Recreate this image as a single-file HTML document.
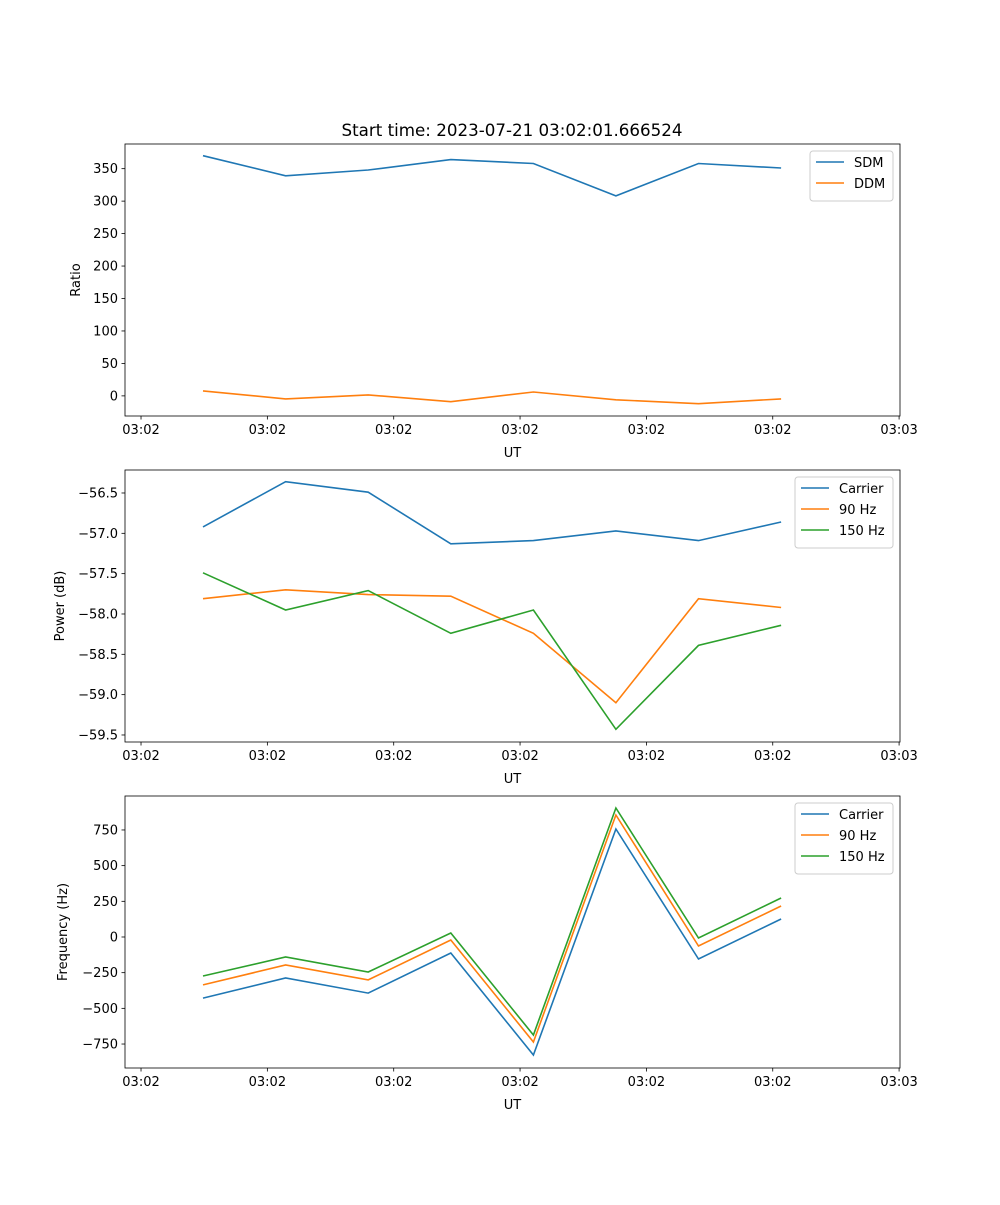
<!DOCTYPE html>
<html><head><meta charset="utf-8"><style>
html,body{margin:0;padding:0;background:#fff;}
svg text{font-family:"DejaVu Sans","Liberation Sans",sans-serif;}
</style></head><body>
<svg id="fig" width="1000" height="1200" xmlns="http://www.w3.org/2000/svg"></svg>
<script>
const xTickLabels = ["03:02","03:02","03:02","03:02","03:02","03:02","03:03"];
const sdm = [370,339,348,364,358,308,358,351];
const ddm = [7.7,-4.6,1.5,-9,6,-6,-12,-4.6];
const pCarrier = [-56.92,-56.36,-56.49,-57.13,-57.09,-56.97,-57.09,-56.86];
const p90 = [-57.81,-57.70,-57.76,-57.78,-58.24,-59.10,-57.81,-57.92];
const p150 = [-57.49,-57.95,-57.71,-58.24,-57.95,-59.43,-58.39,-58.14];
const fCarrier = [-428,-287,-393,-112,-827,757,-154,126];
const f90 = [-336,-196,-301,-21,-736,855,-63,217];
const f150 = [-273,-140,-245,28,-687,904,-7,273];
const yTicks1 = [0,50,100,150,200,250,300,350];
const yTicks2 = [-59.5,-59.0,-58.5,-58.0,-57.5,-57.0,-56.5];
const yTicks3 = [-750,-500,-250,0,250,500,750];

const NS="http://www.w3.org/2000/svg";
const svg=document.getElementById('fig');
function mk(tag,attrs,parent){const e=document.createElementNS(NS,tag);for(const k in attrs)e.setAttribute(k,attrs[k]);(parent||svg).appendChild(e);return e;}
const L=125,R=900;
const xMin=-0.945,xMax=8.44;
function xs(v){return L+(v-xMin)/(xMax-xMin)*(R-L);}
const xTickPos=[-0.751,0.779,2.309,3.839,5.369,6.899,8.429];
const colors={blue:'#1f77b4',orange:'#ff7f0e',green:'#2ca02c'};

function panel(name,top,bottom,yMin,yMax,yTicks,fmt,ylabel,series,legend){
  const g=mk('g',{});
  
  
  const ys=v=>bottom-(v-yMin)/(yMax-yMin)*(bottom-top);
  yTicks.forEach(t=>{
    const y=ys(t);
    const tk=mk('line',{x1:L-3.5,x2:L,y1:y,y2:y,stroke:'#000','stroke-width':0.8},g);
    
    
    const tx=mk('text',{x:L-7,y:y+4.5,'text-anchor':'end','font-size':13},g);
    
    
    tx.textContent=fmt(t);
  });
  xTickPos.forEach((t,i)=>{
    const x=xs(t);
    const tk=mk('line',{x1:x,x2:x,y1:bottom,y2:bottom+3.5,stroke:'#000','stroke-width':0.8},g);
    
    
    const tx=mk('text',{x:x,y:bottom+18,'text-anchor':'middle','font-size':13},g);
    
    
    tx.textContent=xTickLabels[i];
  });
  series.forEach(s=>{
    const pts=s.data.map((v,i)=>xs(i).toFixed(1)+','+ys(v).toFixed(1)).join(' ');
    const pl=mk('polyline',{points:pts,fill:'none',stroke:s.color,'stroke-width':1.6},g);
    
    
  });
  const fr=mk('rect',{x:L,y:top,width:R-L,height:bottom-top,fill:'none',stroke:'#000','stroke-width':0.8},g);
  
  
  const xl=mk('text',{x:(L+R)/2,y:bottom+41,'text-anchor':'middle','font-size':13},g);
  
  
  xl.textContent='UT';
  const cy=(top+bottom)/2;
  const yl=mk('text',{x:0,y:0,'text-anchor':'middle','font-size':13,transform:`translate(${legend.ylx},${cy}) rotate(-90)`},g);
  
  
  yl.textContent=ylabel;
  const lg=mk('g',{},g);
  
  
  const lh=8+series.length*21;
  mk('rect',{x:legend.x,y:top+7,width:R-7-legend.x,height:lh,rx:3,fill:'#fff',stroke:'#ccc','stroke-width':1},lg);
  series.forEach((s,i)=>{
    const yy=top+18+i*21;
    const e=mk('g',{},lg);
    
    
    mk('line',{x1:legend.x+6,x2:legend.x+34,y1:yy,y2:yy,stroke:s.color,'stroke-width':1.6},e);
    const t=mk('text',{x:legend.x+44,y:yy+5,'font-size':13},e);
    t.textContent=s.label;
  });
}
const title=mk('text',{x:512,y:136,'text-anchor':'middle','font-size':16.7});


title.textContent='Start time: 2023-07-21 03:02:01.666524';

panel('ratio-panel',144,416,-31,388,yTicks1,v=>String(v),'Ratio',
 [{id:'sdm-line',data:sdm,color:colors.blue,label:'SDM'},{id:'ddm-line',data:ddm,color:colors.orange,label:'DDM'}],
 {x:810,ylx:80});
panel('power-panel',470,742,-59.587,-56.215,yTicks2,v=>'\u2212'+Math.abs(v).toFixed(1),'Power (dB)',
 [{id:'carrier-power-line',data:pCarrier,color:colors.blue,label:'Carrier'},{id:'90hz-power-line',data:p90,color:colors.orange,label:'90 Hz'},{id:'150hz-power-line',data:p150,color:colors.green,label:'150 Hz'}],
 {x:795,ylx:64});
panel('frequency-panel',796,1068,-918,988,yTicks3,v=>v<0?'\u2212'+Math.abs(v):String(v),'Frequency (Hz)',
 [{id:'carrier-freq-line',data:fCarrier,color:colors.blue,label:'Carrier'},{id:'90hz-freq-line',data:f90,color:colors.orange,label:'90 Hz'},{id:'150hz-freq-line',data:f150,color:colors.green,label:'150 Hz'}],
 {x:795,ylx:67});
</script>
</body></html>
